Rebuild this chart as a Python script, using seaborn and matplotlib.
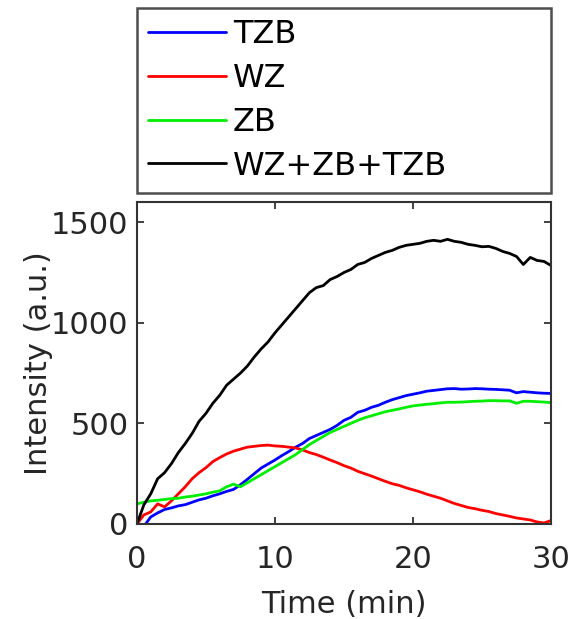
import numpy as np
import pandas as pd
import matplotlib
matplotlib.use("Agg")
import matplotlib.pyplot as plt
import seaborn as sns

time_min = [0.0, 0.5, 1.0, 1.5, 2.0, 2.5, 3.0, 3.5, 4.0, 4.5, 5.0, 5.5, 6.0, 6.5, 7.0, 7.5,
            8.0, 8.5, 9.0, 9.5, 10.0, 10.5, 11.0, 11.5, 12.0, 12.5, 13.0, 13.5, 14.0, 14.5,
            15.0, 15.5, 16.0, 16.5, 17.0, 17.5, 18.0, 18.5, 19.0, 19.5, 20.0, 20.5, 21.0,
            21.5, 22.0, 22.5, 23.0, 23.5, 24.0, 24.5, 25.0, 25.5, 26.0, 26.5, 27.0, 27.5,
            28.0, 28.5, 29.0, 29.5, 30.0]

tzb = [-40, -12, 35, 55, 72, 80, 90, 96, 108, 120, 128, 140, 150, 162, 172, 195,
       222, 250, 278, 298, 318, 340, 360, 382, 400, 425, 440, 455, 470, 490,
       515, 530, 555, 565, 580, 590, 605, 618, 628, 638, 645, 652, 660,
       664, 668, 672, 673, 670, 671, 673, 672, 670, 669, 667, 665, 652,
       658, 655, 652, 650, 649]

wz = [0, 45, 60, 100, 85, 115, 150, 185, 225, 255, 280, 310, 330, 348, 362, 372,
      382, 386, 390, 392, 388, 386, 382, 378, 368, 355, 345, 332, 318, 305,
      290, 278, 262, 250, 238, 225, 212, 200, 192, 180, 170, 160, 148,
      138, 128, 115, 102, 92, 82, 76, 68, 62, 52, 45, 38, 30,
      25, 20, 10, 5, 17]

zb = [100, 108, 115, 118, 122, 126, 128, 134, 138, 144, 150, 158, 165, 185, 198, 185,
      205, 225, 245, 265, 285, 305, 325, 345, 370, 395, 415, 435, 455, 470,
      485, 500, 515, 528, 538, 548, 558, 565, 572, 580, 587, 591, 595,
      598, 602, 605, 605, 606, 608, 610, 611, 613, 613, 612, 612, 600,
      610, 610, 608, 606, 603]

total = [0, 95, 150, 225, 255, 300, 355, 400, 450, 510, 550, 600, 640, 690, 720, 750,
         785, 830, 870, 905, 950, 990, 1030, 1070, 1110, 1150, 1175, 1185, 1215, 1230,
         1250, 1265, 1290, 1300, 1320, 1335, 1350, 1360, 1375, 1385, 1390, 1395, 1405,
         1410, 1405, 1415, 1405, 1400, 1390, 1385, 1378, 1380, 1370, 1355, 1345, 1330,
         1290, 1325, 1310, 1305, 1285]

series_names = ["TZB", "WZ", "ZB", "WZ+ZB+TZB"]
series_values = [tzb, wz, zb, total]
colors = ["#0000ff", "#ff0000", "#00ee00", "#000000"]

df = pd.concat([pd.DataFrame({"Time": time_min, "Intensity": v, "Series": n})
                for n, v in zip(series_names, series_values)], ignore_index=True)

sns.set_theme(style="ticks")
plt.rcParams['font.family'] = ['DejaVu Sans']

fig = plt.figure(figsize=(5.73, 6.19), dpi=100)
ax = fig.add_axes([0.239, 0.1535, 0.7225, 0.520])

sns.lineplot(data=df, x="Time", y="Intensity", hue="Series", hue_order=series_names,
             palette=colors, linewidth=2.0, ax=ax, legend=True)

ax.set_xlim(0, 30)
ax.set_ylim(0, 1600)
ax.set_xticks([0, 10, 20, 30])
ax.set_yticks([0, 500, 1000, 1500])
ax.tick_params(direction="in", top=True, right=True, length=5, width=1.3,
               labelsize=22, colors="#333333", labelcolor="#262626")
ax.tick_params(axis="x", pad=15)
ax.tick_params(axis="y", pad=6)
for s in ax.spines.values():
    s.set_color("#333333")
    s.set_linewidth(1.5)
ax.set_xlabel("Time (min)", fontsize=22, color="#262626", labelpad=12)
ax.set_ylabel("Intensity (a.u.)", fontsize=22, color="#262626", labelpad=-1)

handles, labels = ax.get_legend_handles_labels()
ax.get_legend().remove()
leg = fig.legend(handles, labels, loc="upper left",
                 bbox_to_anchor=(0.239, 0.70, 0.7225, 0.287), mode="expand",
                 fontsize=23, frameon=True, fancybox=False, handlelength=2.45,
                 handletextpad=0.2, labelspacing=0.4, borderpad=0.35,
                 borderaxespad=0.0)
leg.get_frame().set_edgecolor("#222222")
leg.get_frame().set_linewidth(1.8)
for t in leg.get_texts():
    t.set_color("black")

fig.savefig("out.png", dpi=100)
